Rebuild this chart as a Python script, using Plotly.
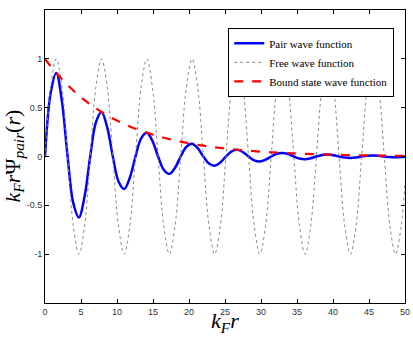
import plotly.graph_objects as go

# sample positions k_F r
x = [0, 0.79, 1.57, 2.36, 3.14, 3.93, 4.71, 5.50, 6.28, 7.07,
     7.85, 8.64, 9.42, 10.21, 11.00, 11.78, 12.57, 13.35, 14.14, 14.92,
     15.71, 16.49, 17.28, 18.06, 18.85, 19.63, 20.42, 21.21, 21.99, 22.78,
     23.56, 24.35, 25.13, 25.92, 26.70, 27.49, 28.27, 29.06, 29.85, 30.63,
     31.42, 32.20, 32.99, 33.77, 34.56, 35.34, 36.13, 36.91, 37.70, 38.48,
     39.27, 40.06, 40.84, 41.63, 42.41, 43.20, 43.98, 44.77, 45.55, 46.34,
     47.12, 47.91, 48.69, 49.48, 50]

pair = [0, 0.654, 0.855, 0.559, 0, -0.477, -0.624, -0.408, 0, 0.349,
        0.456, 0.298, 0, -0.255, -0.333, -0.218, 0, 0.186, 0.243, 0.159,
        0, -0.136, -0.178, -0.116, 0, 0.099, 0.130, 0.085, 0, -0.0725,
        -0.0948, -0.0619, 0, 0.053, 0.0692, 0.0452, 0, -0.0387, -0.0506, -0.033,
        0, 0.0282, 0.0369, 0.0241, 0, -0.0206, -0.027, -0.0176, 0, 0.0151,
        0.0197, 0.0129, 0, -0.011, -0.0144, -0.0094, 0, 0.0081, 0.0105, 0.0069,
        0, -0.0059, -0.0077, -0.005, -0.0018]

free = [0, 0.71, 1, 0.71, 0, -0.71, -1, -0.71, 0, 0.71,
        1, 0.71, 0, -0.71, -1, -0.71, 0, 0.71, 1, 0.71,
        0, -0.71, -1, -0.71, 0, 0.71, 1, 0.71, 0, -0.71,
        -1, -0.71, 0, 0.71, 1, 0.71, 0, -0.71, -1, -0.71,
        0, 0.71, 1, 0.71, 0, -0.71, -1, -0.71, 0, 0.71,
        1, 0.71, 0, -0.71, -1, -0.71, 0, 0.71, 1, 0.71,
        0, -0.71, -1, -0.71, -0.26]

bound = [1, 0.9245, 0.8546, 0.7901, 0.7304, 0.6752, 0.6242, 0.5771, 0.5335, 0.4933,
         0.456, 0.4216, 0.3897, 0.3603, 0.3331, 0.3079, 0.2847, 0.2632, 0.2433, 0.2249,
         0.2079, 0.1922, 0.1777, 0.1643, 0.1519, 0.1404, 0.1298, 0.12, 0.1109, 0.1025,
         0.0948, 0.0876, 0.081, 0.0749, 0.0692, 0.064, 0.0592, 0.0547, 0.0506, 0.0467,
         0.0432, 0.0399, 0.0369, 0.0341, 0.0315, 0.0292, 0.027, 0.0249, 0.023, 0.0213,
         0.0197, 0.0182, 0.0168, 0.0156, 0.0144, 0.0133, 0.0123, 0.0114, 0.0105, 0.0097,
         0.009, 0.0083, 0.0077, 0.0071, 0.0067]

xticks = [0, 5, 10, 15, 20, 25, 30, 35, 40, 45, 50]
yticks = [-1, -0.5, 0, 0.5, 1]
yticklabels = ["-1", "-0.5", "0", "0.5", "1"]

SERIF = "Liberation Serif, Times New Roman, serif"

fig = go.Figure()
fig.add_trace(go.Scatter(x=x, y=pair, mode="lines", name="Pair wave function",
                         line=dict(color="#0000FF", width=2.5, shape="spline")))
fig.add_trace(go.Scatter(x=x, y=free, mode="lines", name="Free wave function",
                         line=dict(color="#8a8a8a", width=1, dash="dot", shape="spline")))
fig.add_trace(go.Scatter(x=x, y=bound, mode="lines", name="Bound state wave function",
                         line=dict(color="#FF0000", width=2.2, dash="dash", shape="spline")))

axis_style = dict(showline=True, linecolor="black", linewidth=1, mirror="ticks",
                  ticks="inside", ticklen=4, tickcolor="black", showgrid=False,
                  zeroline=False, automargin=False, ticklabeloverflow="allow",
                  tickfont=dict(family="Liberation Sans", size=9, color="#333"))

fig.update_xaxes(range=[0, 50], tickvals=xticks, ticktext=[str(t) for t in xticks], **axis_style)
fig.update_yaxes(range=[-1.5, 1.5], tickvals=yticks, ticktext=yticklabels, **axis_style)

# axis titles as annotations for exact placement
fig.add_annotation(text="<i>k<sub>F</sub>r</i>", xref="paper", yref="paper",
                   x=0.5, y=0, xanchor="center", yanchor="top", yshift=-3, showarrow=False,
                   font=dict(family=SERIF, size=22, color="black"))
fig.add_annotation(text="<i>k<sub>F</sub>r</i>Ψ<sub><i>pair</i></sub>(<i>r</i>)", xref="paper", yref="paper",
                   x=0, y=0.5, xanchor="right", yanchor="middle", yshift=0, xshift=-16,
                   textangle=-90, showarrow=False,
                   font=dict(family=SERIF, size=22, color="black"))

fig.update_layout(
    width=413, height=337,
    margin=dict(l=45, r=8, t=10, b=34, autoexpand=False),
    paper_bgcolor="white", plot_bgcolor="white",
    legend=dict(x=0.97, y=0.939, xanchor="right", yanchor="top",
                bgcolor="white", bordercolor="black", borderwidth=1,
                font=dict(family=SERIF, size=11, color="black"),
                itemwidth=30, tracegroupgap=0),
)

# drop the default 8px page margin so the figure fills the window
fig.write_html("out.html", config={"displayModeBar": False},
               post_script="document.body.style.margin='0';")
